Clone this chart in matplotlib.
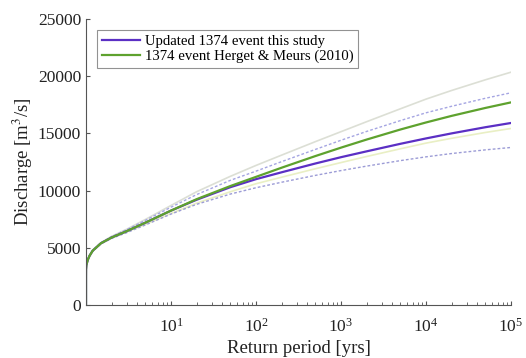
import numpy as np
import matplotlib
matplotlib.use("Agg")
import matplotlib.pyplot as plt

# ---------------------------------------------
# Flood frequency curves for the 1374 event
# ---------------------------------------------
return_period = [1.0, 1.0001, 1.001, 1.01, 1.05, 1.1, 1.2, 1.5, 2, 3, 5, 10, 20, 50,
                 100, 200, 500, 1e3, 2e3, 5e3, 1e4, 2e4, 5e4, 1e5]

# updated estimate (this study) with its confidence bounds
q_updated = [0, 2600, 3100, 3500, 3950, 4300, 4750, 5400, 5900, 6450, 7200, 8250, 9200,
             10300, 11000, 11600, 12370, 12920, 13430, 14090, 14560, 15000, 15540, 15910]
q_updated_hi = [0, 2650, 3150, 3550, 4000, 4350, 4800, 5450, 5980, 6580, 7400, 8550, 9650,
                10900, 11700, 12530, 13600, 14400, 15170, 16120, 16800, 17370, 18070, 18550]
q_updated_lo = [0, 2550, 3050, 3450, 3900, 4250, 4700, 5350, 5820, 6320, 7000, 7950, 8800,
                9700, 10250, 10730, 11330, 11750, 12140, 12620, 12950, 13240, 13560, 13770]

# Herget & Meurs (2010) estimate with its confidence bounds
q_herget = [0, 2600, 3100, 3500, 3950, 4300, 4750, 5400, 5900, 6450, 7200, 8250, 9250,
            10400, 11200, 12000, 13020, 13755, 14460, 15340, 15955, 16530, 17225, 17710]
q_herget_hi = [0, 2650, 3150, 3550, 4000, 4350, 4800, 5450, 6000, 6620, 7480, 8700, 9900,
               11250, 12200, 13100, 14280, 15150, 16020, 17150, 17995, 18750, 19685, 20350]
q_herget_lo = [0, 2550, 3050, 3450, 3900, 4250, 4700, 5350, 5850, 6380, 7050, 8000, 8900,
               9900, 10600, 11170, 11910, 12450, 12980, 13655, 14150, 14570, 15080, 15430]

y_ticks = [0, 5000, 10000, 15000, 20000, 25000]

plt.rcParams["font.family"] = ["Liberation Serif", "DejaVu Serif"]
plt.rcParams["mathtext.fontset"] = "stix"

fig = plt.figure(figsize=(5.26, 3.58), dpi=100)
ax = fig.add_axes([0.1635, 0.148, 0.808, 0.799])

purple = "#5b2fc4"
green = "#5ea22e"

# confidence bounds
ax.plot(return_period, q_herget_hi, color="#dcdfd5", lw=1.2)
ax.plot(return_period, q_herget_lo, color="#e9efc4", lw=1.2)
ax.plot(return_period, q_updated_hi, color="#a5a5e2", lw=1.0, ls=(0, (2, 1.5)))
ax.plot(return_period, q_updated_lo, color="#9c9cd6", lw=1.0, ls=(0, (2, 1.5)))

# central estimates
ax.plot(return_period, q_updated, color=purple, lw=1.6,
        label="Updated 1374 event this study")
ax.plot(return_period, q_herget, color=green, lw=1.6,
        label="1374 event Herget & Meurs (2010)")

ax.set_xscale("log")
ax.set_xlim(1, 1e5)
ax.set_ylim(0, 25000)
ax.set_yticks(y_ticks)
ax.set_xticks([1e1, 1e2, 1e3, 1e4, 1e5])

for side in ["top", "right"]:
    ax.spines[side].set_visible(False)
for side in ["left", "bottom"]:
    ax.spines[side].set_color("#555555")
    ax.spines[side].set_linewidth(0.8)

ax.tick_params(axis="both", which="both", direction="in", colors="#555555",
               labelcolor="#222222", labelsize=12.5)
ax.tick_params(axis="both", which="major", length=3)
ax.tick_params(axis="x", which="minor", length=2)
ax.tick_params(axis="x", pad=9)

ax.set_xlabel("Return period [yrs]", fontsize=13.5, color="#222222", labelpad=3)
ax.set_ylabel("Discharge [m$^3$/s]", fontsize=13.5, color="#222222", labelpad=2)

leg = ax.legend(loc="upper left", bbox_to_anchor=(0.02, 0.97), fontsize=10.6,
                frameon=True, fancybox=False, handlelength=2.6, handletextpad=0.3,
                borderpad=0.3, labelspacing=0.1, borderaxespad=0.2)
leg.get_frame().set_edgecolor("#777777")
leg.get_frame().set_linewidth(0.8)

fig.savefig("out.png", dpi=100)
